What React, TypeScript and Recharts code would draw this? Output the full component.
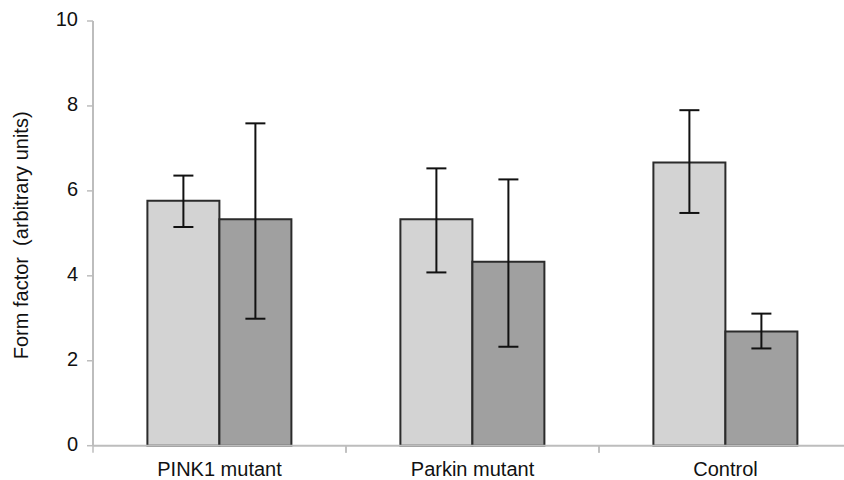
import React from 'react';
import { BarChart, Bar, XAxis, YAxis, ErrorBar, Label } from 'recharts';

const categories = ['PINK1 mutant', 'Parkin mutant', 'Control'];
const lightMean = [5.77, 5.33, 6.67];
const lightLow = [5.15, 4.08, 5.48];
const lightHigh = [6.36, 6.53, 7.9];
const darkMean = [5.33, 4.33, 2.69];
const darkLow = [2.99, 2.33, 2.29];
const darkHigh = [7.59, 6.27, 3.11];
const yTicks = [0, 2, 4, 6, 8, 10];

const data = categories.map((name, i) => ({
  name,
  light: lightMean[i],
  lightErr: [lightMean[i] - lightLow[i], lightHigh[i] - lightMean[i]],
  dark: darkMean[i],
  darkErr: [darkMean[i] - darkLow[i], darkHigh[i] - darkMean[i]],
}));

const FONT = '"Liberation Sans", Arial, Helvetica, sans-serif';
const AXIS = '#bdbdbd';

const CategoryTick = (props: any) => {
  const { x, y, payload } = props;
  const off = payload.offset || 0;
  return (
    <g>
      <line x1={x - off} x2={x - off} y1={y} y2={y + 7} stroke={AXIS} strokeWidth={1.5} />
      <line x1={x + off} x2={x + off} y1={y} y2={y + 7} stroke={AXIS} strokeWidth={1.5} />
      <text x={x} y={y + 16} dy="0.71em" textAnchor="middle" fill="#111" fontSize={20} fontFamily={FONT}>
        {payload.value}
      </text>
    </g>
  );
};

const YLabel = (props: any) => {
  const vb = props.viewBox || { x: 0, y: 0, width: 0, height: 0 };
  const cx = vb.x + 28.5;
  const cy = vb.y + vb.height / 2 + 2;
  return (
    <text
      x={cx}
      y={cy}
      transform={`rotate(-90, ${cx}, ${cy})`}
      textAnchor="middle"
      fill="#111"
      fontSize={20}
      fontFamily={FONT}
      style={{ whiteSpace: 'pre' }}
    >
      {'Form factor  (arbitrary units)'}
    </text>
  );
};

export default function App() {
  return (
    <div style={{ position: 'absolute', left: 0, top: 0, width: 844, height: 480, overflow: 'hidden', background: '#fff' }}>
      <BarChart
        width={852}
        height={480}
        data={data}
        margin={{ top: 21, right: 0, left: 0, bottom: 0 }}
        barCategoryGap="21.5%"
        barGap={0}
      >
        <XAxis
          dataKey="name"
          height={34.3}
          tickLine={false}
          tickSize={0}
          tickMargin={0}
          axisLine={{ stroke: AXIS, strokeWidth: 2 }}
          tick={<CategoryTick />}
          interval={0}
        />
        <YAxis
          width={93}
          domain={[0, 10]}
          ticks={yTicks}
          tickSize={6}
          tickMargin={9}
          axisLine={{ stroke: AXIS, strokeWidth: 2 }}
          tickLine={{ stroke: AXIS, strokeWidth: 1.5 }}
          tick={{ fill: '#111', fontSize: 20, fontFamily: FONT, dy: -2 }}
        >
          <Label content={<YLabel />} />
        </YAxis>
        <Bar dataKey="light" fill="#d3d3d3" stroke="#2b2b2b" strokeWidth={2} isAnimationActive={false}>
          <ErrorBar dataKey="lightErr" width={10} stroke="#111" strokeWidth={2} direction="y" />
        </Bar>
        <Bar dataKey="dark" fill="#a0a0a0" stroke="#2b2b2b" strokeWidth={2} isAnimationActive={false}>
          <ErrorBar dataKey="darkErr" width={10} stroke="#111" strokeWidth={2} direction="y" />
        </Bar>
      </BarChart>
    </div>
  );
}
